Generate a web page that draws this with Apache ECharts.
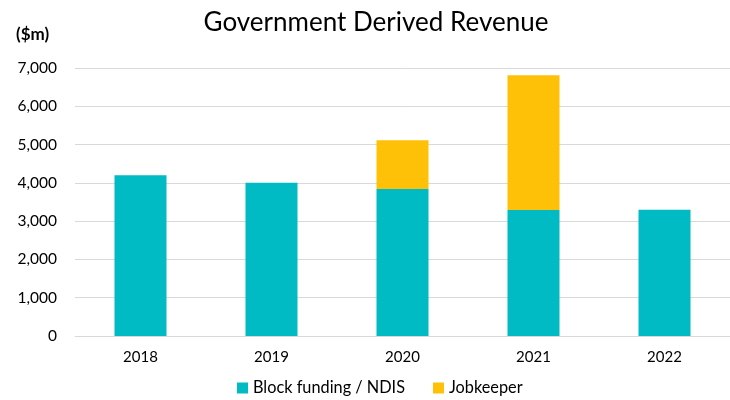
<!DOCTYPE html>
<html><head><meta charset="utf-8">
<script src="https://cdn.jsdelivr.net/npm/echarts@6/dist/echarts.min.js"></script>
<style>html,body{margin:0;padding:0;background:#fff}#c{width:730px;height:400px}</style>
</head><body><div id="c"></div>
<script>
const categories = ['2018','2019','2020','2021','2022'];
const blockFunding = [4200, 4000, 3840, 3290, 3300];
const jobkeeper = [0, 0, 1270, 3520, 0];
const yTicks = [0, 1000, 2000, 3000, 4000, 5000, 6000, 7000];
const FONT = 'Lato, "Open Sans", sans-serif';
const chart = echarts.init(document.getElementById('c'));
chart.setOption({
  animation: false,
  textStyle: {fontFamily: FONT},
  title: [{text: 'Government Derived Revenue', left: 371, top: 5, textAlign: 'center',
    textStyle: {fontFamily: FONT, fontSize: 26, fontWeight: 'normal', color: '#000'}},
    {text: '($m)', left: 11, top: 21, textStyle: {fontFamily: FONT, fontSize: 17, fontWeight: 'bold', color: '#000'}}],
  legend: {bottom: -1, left: 232, itemWidth: 11, itemHeight: 11, itemGap: 28,
    icon: 'rect', textStyle: {fontFamily: FONT, fontSize: 16.3, color: '#000'},
    data: ['Block funding / NDIS', 'Jobkeeper']},
  grid: {left: 75, top: 68, width: 657, bottom: 64, containLabel: false},
  xAxis: {type: 'category', data: categories,
    axisLine: {lineStyle: {color: '#d9d9d9', width: 1}}, axisTick: {show: false},
    axisLabel: {fontSize: 15, color: '#000', margin: 14, fontFamily: FONT}},
  yAxis: {type: 'value', min: yTicks[0], max: yTicks[yTicks.length-1], interval: 1000,
    axisLine: {show: false}, axisTick: {show: false},
    splitLine: {lineStyle: {color: '#d9d9d9', width: 1}},
    axisLabel: {fontSize: 15.5, color: '#000', margin: 18, fontFamily: FONT,
      formatter: v => v.toLocaleString('en-US')}},
  series: [
    {name: 'Block funding / NDIS', type: 'bar', stack: 'a', data: blockFunding, barWidth: 52,
      itemStyle: {color: '#00BAC4'}},
    {name: 'Jobkeeper', type: 'bar', stack: 'a', data: jobkeeper, barWidth: 52,
      itemStyle: {color: '#FFC107'}}
  ]
});
</script></body></html>
